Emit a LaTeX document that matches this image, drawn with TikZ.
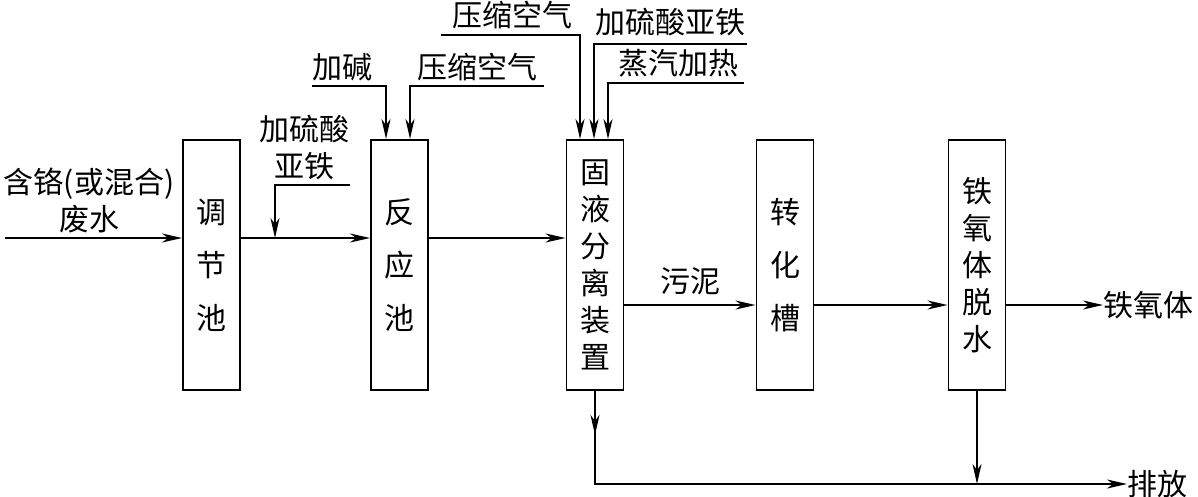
\documentclass[tikz,border=0pt]{standalone}
\usepackage{fontspec}
\setmainfont{Noto Sans CJK SC}
\usetikzlibrary{arrows.meta,positioning}

\begin{document}
\begin{tikzpicture}[x=1pt,y=-1pt,line width=1.9pt,
		box/.style={draw,minimum width=57pt,minimum height=250pt,inner sep=0pt,align=center},
		wide/.style={font=\fontsize{30}{53}\selectfont},
		tight/.style={font=\fontsize{30}{37}\selectfont},
		lbl/.style={inner sep=0pt,align=center,font=\fontsize{30}{37}\selectfont},
		flow/.style={-{Stealth[length=20pt,width=9pt,inset=6pt]}}]
		\useasboundingbox (0,0) rectangle (1198,497);
		\node[box,wide] (tiao) at (211.5,265) {调\\节\\池};
		\node[box,wide] (fan) at (399.5,265) {反\\应\\池};
		\node[box,tight] (gu) at (595,265) {固\\液\\分\\离\\装\\置};
		\node[box,wide] (zhuan) at (785,265) {转\\化\\槽};
		\node[box,tight] (tuo) at (977,265) {铁\\氧\\体\\脱\\水};
		\node[lbl] (fs) at (89,200) {含铬(或混合)\\废水};
		\coordinate (win) at (5,238);
		\draw[flow] (win) -- (win -| tiao.west);
		\draw[flow] (tiao.east |- win) -- (fan.west |- win);
		\draw[flow] (fan.east |- win) -- (gu.west |- win);
		\node[lbl] (lsy) at (304,148) {加硫酸\\亚铁};
		\coordinate (lsyend) at (350,185);
		\draw[flow] (lsyend) -| (275,238);
		\node[lbl] (jian) at (342,67) {加碱};
		\draw[flow] (312,86) -| (fan.north -| 386,0);
		\node[lbl] (kq1) at (477,67) {压缩空气};
		\draw[flow] (544,86) -| (fan.north -| 410,0);
		\node[lbl] (kq2) at (512,15) {压缩空气};
		\draw[flow] (441,35) -| (gu.north -| 580,0);
		\node[lbl] (lsy2) at (670,22) {加硫酸亚铁};
		\draw[flow] (747,44) -| (gu.north -| 594,0);
		\node[lbl] (zq) at (678,63) {蒸汽加热};
		\draw[flow] (744,83) -| (gu.north -| 608,0);
		\coordinate (mid) at (0,305);
		\draw[flow] (gu.east |- mid) -- (zhuan.west |- mid) node[lbl,midway,above=9pt] (wn) {污泥};
		\draw[flow] (zhuan.east |- mid) -- (tuo.west |- mid);
		\node[lbl,anchor=west] (ftt) at (1103,305) {铁氧体};
		\draw[flow] (tuo.east |- mid) -- (ftt.west);
		\node[lbl,anchor=west] (pf) at (1127,484) {排放};
		\draw[flow] (gu.south) |- (pf.west);
		\draw[flow] (gu.south) -- ++(0,44);
		\draw[flow] (tuo.south) -- (tuo.south |- pf.west);
	\end{tikzpicture}
\end{document}
